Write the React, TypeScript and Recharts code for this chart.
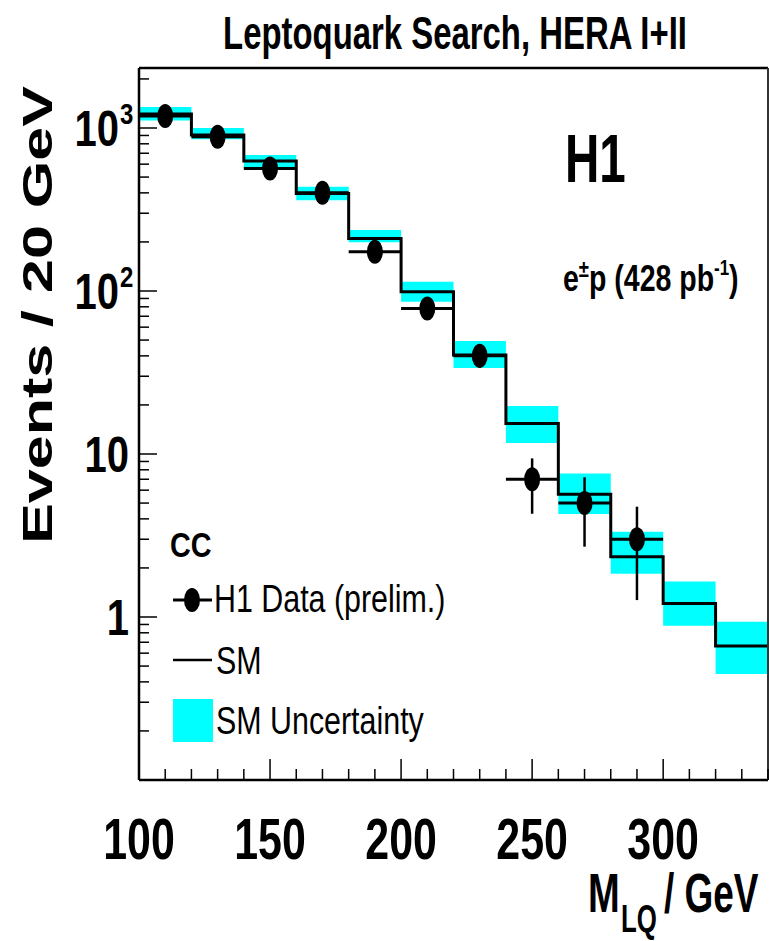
import React from "react";
import { ComposedChart, Area, Line, Scatter, XAxis, YAxis, ErrorBar } from "recharts";

// bins of 20 GeV, left edges plus the last right edge
const binEdges = [100, 120, 140, 160, 180, 200, 220, 240, 260, 280, 300, 320, 340];
// SM expectation per bin and its uncertainty band
const smValues = [1220, 906, 628, 396, 210, 99, 40.5, 15.4, 5.66, 2.34, 1.21, 0.664];
const smLow = [1110, 853, 569, 361, 199, 86, 33.7, 11.7, 4.28, 1.84, 0.885, 0.447];
const smHigh = [1346, 1000, 682, 436, 237, 114, 49.3, 19.7, 7.6, 3.34, 1.65, 0.935];
// H1 data (prelim.)
const dataMass = [110, 130, 150, 170, 190, 210, 230, 250, 270, 290];
const dataEvents = [1185, 885, 565, 400, 174, 78, 40, 7, 5, 3];
const dataErrDown = [34, 30, 24, 20, 13, 9, 6.3, 2.7, 2.3, 1.73];
const dataErrUp = [34, 30, 24, 20, 13, 9, 6.3, 2.4, 2.2, 1.75];
// axis ticks
const xTicks = [100, 110, 120, 130, 140, 150, 160, 170, 180, 190, 200, 210, 220, 230, 240, 250, 260, 270, 280, 290, 300, 310, 320, 330, 340];
const xLabels = [100, 150, 200, 250, 300];
const yTicks = [
  0.2, 0.3, 0.4, 0.5, 0.6, 0.7, 0.8, 0.9, 1, 2, 3, 4, 5, 6, 7, 8, 9, 10,
  20, 30, 40, 50, 60, 70, 80, 90, 100, 200, 300, 400, 500, 600, 700, 800, 900, 1000, 2000,
];
const yLabels: Record<number, [string, string]> = { 1: ["1", ""], 10: ["10", ""], 100: ["10", "2"], 1000: ["10", "3"] };

const FONT = "'Liberation Sans', Arial, Helvetica, sans-serif";

const histData = binEdges.map((x, i) => {
  const k = Math.min(i, smValues.length - 1);
  return { x, sm: smValues[k], band: [smLow[k], smHigh[k]] };
});

const pointData = dataMass.map((x, i) => ({
  x,
  y: dataEvents[i],
  ey: [dataErrDown[i], dataErrUp[i]],
  ex: 10,
}));

const T = ({ x, y, size, bold = true, sx = 0.7, anchor = "start", children }: any) => (
  <text
    transform={`translate(${x},${y}) scale(${sx},1)`}
    fontSize={size}
    fontWeight={bold ? 700 : 400}
    fontFamily={FONT}
    textAnchor={anchor}
    fill="#000"
  >
    {children}
  </text>
);

const XTick = ({ x, y, payload }: any) => {
  const v = payload.value;
  const major = xLabels.includes(v);
  return (
    <g>
      <line x1={x} x2={x} y1={y} y2={y - (major ? 21 : 11)} stroke="#000" strokeWidth={1.5} />
      {major && <T x={x} y={y + 79} size={58} sx={0.74} anchor="middle">{v}</T>}
    </g>
  );
};

const YTick = ({ x, y, payload }: any) => {
  const v = payload.value;
  const lab = yLabels[v];
  return (
    <g>
      <line x1={x} x2={x + (lab ? 18 : 10)} y1={y} y2={y} stroke="#000" strokeWidth={1.5} />
      {lab && lab[1] === "" && <T x={x - 10} y={y + 18} size={50} sx={0.8} anchor="end">{lab[0]}</T>}
      {lab && lab[1] !== "" && (
        <g>
          <T x={x - 20} y={y + 18} size={50} sx={0.8} anchor="end">{lab[0]}</T>
          <T x={x - 19} y={y - 4} size={30} sx={0.8}>{lab[1]}</T>
        </g>
      )}
    </g>
  );
};

const Marker = (p: any) => <ellipse cx={p.cx} cy={p.cy} rx={8} ry={12} fill="#000" />;

export default function App() {
  return (
    <div style={{ position: "absolute", left: 0, top: 0, width: 769, height: 941, background: "#fff" }}>
      <ComposedChart width={769} height={941} margin={{ top: 67, right: 0, bottom: 160, left: 138 }}>
        <XAxis
          xAxisId={0}
          type="number"
          dataKey="x"
          domain={[100, 340]}
          allowDataOverflow
          ticks={xTicks}
          interval={0}
          height={1}
          tickSize={0}
          tickMargin={0}
          tickLine={false}
          tick={<XTick />}
          axisLine={{ stroke: "#000", strokeWidth: 2.5 }}
        />
        <XAxis
          xAxisId="top"
          orientation="top"
          type="number"
          domain={[100, 340]}
          height={1}
          tick={false}
          tickLine={false}
          axisLine={{ stroke: "#000", strokeWidth: 2.5 }}
        />
        <YAxis
          yAxisId={0}
          dataKey="y"
          scale="log"
          domain={[0.1, 2334]}
          allowDataOverflow
          ticks={yTicks}
          interval={0}
          width={1}
          tickSize={0}
          tickMargin={0}
          tickLine={false}
          tick={<YTick />}
          axisLine={{ stroke: "#000", strokeWidth: 2.5 }}
        />
        <YAxis
          yAxisId="right"
          orientation="right"
          scale="log"
          domain={[0.1, 2334]}
          width={1}
          tick={false}
          tickLine={false}
          axisLine={{ stroke: "#333", strokeWidth: 2 }}
        />
        <Area
          data={histData}
          dataKey="band"
          type="stepAfter"
          fill="#00ffff"
          fillOpacity={1}
          stroke="none"
          isAnimationActive={false}
        />
        <Line
          data={histData}
          dataKey="sm"
          type="stepAfter"
          stroke="#000"
          strokeWidth={3}
          dot={false}
          isAnimationActive={false}
        />
        <Scatter data={pointData} dataKey="y" shape={<Marker />} isAnimationActive={false}>
          <ErrorBar dataKey="ey" direction="y" width={0} stroke="#000" strokeWidth={2.5} isAnimationActive={false} />
          <ErrorBar dataKey="ex" direction="x" width={0} stroke="#000" strokeWidth={3} isAnimationActive={false} />
        </Scatter>
      </ComposedChart>

      <svg width={769} height={941} style={{ position: "absolute", left: 0, top: 0, pointerEvents: "none" }}>
        <T x={455} y={49} size={47} anchor="middle">Leptoquark Search, HERA I+II</T>
        <T x={565} y={182} size={68}>H1</T>
        <T x={563} y={291} size={37} sx={0.77}>
          e<tspan fontSize={24} dy={-14}>±</tspan>
          <tspan dy={14}>p (428 pb</tspan>
          <tspan fontSize={22} dy={-16}>-1</tspan>
          <tspan dy={16}>)</tspan>
        </T>
        <g transform="translate(52,315) scale(0.7,1) rotate(-90)">
          <text x={0} y={0} fontSize={61} fontWeight={700} fontFamily={FONT} textAnchor="middle" fill="#000">
            Events / 20 GeV
          </text>
        </g>
        <T x={588} y={912} size={56} sx={0.68}>M</T>
        <T x={621} y={932} size={38} sx={0.68}>LQ</T>
        <T x={664} y={912} size={56} sx={0.66}>/ GeV</T>

        <T x={170} y={557} size={36} sx={0.8}>CC</T>
        <line x1={173} x2={212} y1={600} y2={600} stroke="#000" strokeWidth={3} />
        <ellipse cx={192} cy={600} rx={8} ry={12} fill="#000" />
        <T x={214} y={612} size={38} bold={false} sx={0.8}>H1 Data (prelim.)</T>
        <line x1={173} x2={212} y1={660} y2={660} stroke="#000" strokeWidth={2.5} />
        <T x={216} y={674} size={38} bold={false} sx={0.8}>SM</T>
        <rect x={173} y={699} width={40} height={43} fill="#00ffff" />
        <T x={216} y={734} size={38} bold={false} sx={0.8}>SM Uncertainty</T>
      </svg>
    </div>
  );
}
